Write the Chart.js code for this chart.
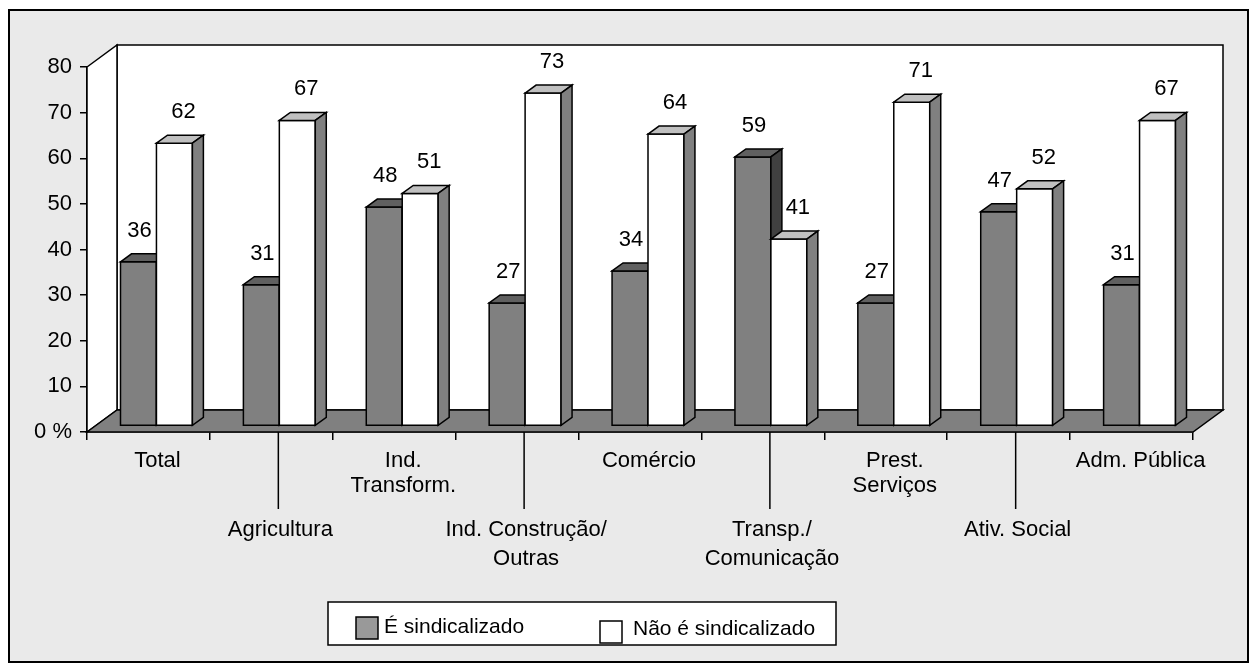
<!DOCTYPE html>
<html>
<head>
<meta charset="utf-8">
<script src="https://cdn.jsdelivr.net/npm/chart.js@4.4.1/dist/chart.umd.min.js"></script>
<style>
  html, body { margin: 0; padding: 0; background: #fff; }
  #wrap { width: 1257px; height: 671px; position: relative; }
</style>
</head>
<body>
<div id="wrap"><canvas id="chart"></canvas></div>
<script>
// Categories (multi-line labels) and values
var categories = [
    ['Total'],
    ['Agricultura'],
    ['Ind.', 'Transform.'],
    ['Ind. Construção/', 'Outras'],
    ['Comércio'],
    ['Transp./', 'Comunicação'],
    ['Prest.', 'Serviços'],
    ['Ativ. Social'],
    ['Adm. Pública']
];
var seriesNames = ['É sindicalizado', 'Não é sindicalizado'];
var sindicalizado = [36, 31, 48, 27, 34, 59, 27, 47, 31];
var naoSindicalizado = [62, 67, 51, 73, 64, 41, 71, 52, 67];
var yMin = 0, yMax = 80, yStep = 10;

var FONT = "'Liberation Sans', Arial, sans-serif";

// colours: front, top, side
var palette = [
    { front: '#808080', top: '#606060', side: '#404040' },
    { front: '#ffffff', top: '#c0c0c0', side: '#808080' }
];
var labelShift = [1, 9];   // value label offset from the bar front centre

// 3D geometry
var WALL_DX = 30, WALL_DY = -22;   // depth of the floor / walls
var BAR_DX = 8, BAR_DY = -5.9;     // bar front face offset into the depth
var SIDE_DX = 11, SIDE_DY = -8;    // bar depth

function poly(ctx, pts, fill) {
    ctx.beginPath();
    ctx.moveTo(pts[0][0], pts[0][1]);
    for (var i = 1; i < pts.length; i++) ctx.lineTo(pts[i][0], pts[i][1]);
    ctx.closePath();
    if (fill) { ctx.fillStyle = fill; ctx.fill(); }
    ctx.stroke();
}

var scene3d = {
    id: 'scene3d',
    beforeDraw: function(chart) {
        var ctx = chart.ctx;
        ctx.save();
        ctx.fillStyle = '#ffffff';
        ctx.fillRect(0, 0, chart.width, chart.height);
        ctx.fillStyle = '#eaeaea';
        ctx.fillRect(9, 10, 1239, 652);
        ctx.strokeStyle = '#000';
        ctx.lineWidth = 2;
        ctx.strokeRect(9, 10, 1239, 652);
        ctx.restore();
    },
    beforeDatasetsDraw: function(chart) {
        var ctx = chart.ctx, a = chart.chartArea, ys = chart.scales.y;
        var L = a.left, R = a.right;
        var top = ys.getPixelForValue(yMax), bot = ys.getPixelForValue(yMin);
        ctx.save();
        ctx.strokeStyle = '#000';
        ctx.lineWidth = 1.5;
        // back wall
        poly(ctx, [[L + WALL_DX, top + WALL_DY], [R + WALL_DX, top + WALL_DY],
                   [R + WALL_DX, bot + WALL_DY], [L + WALL_DX, bot + WALL_DY]], '#ffffff');
        // side wall
        poly(ctx, [[L, top], [L + WALL_DX, top + WALL_DY],
                   [L + WALL_DX, bot + WALL_DY], [L, bot]], '#ffffff');
        // floor
        poly(ctx, [[L, bot], [L + WALL_DX, bot + WALL_DY],
                   [R + WALL_DX, bot + WALL_DY], [R, bot]], '#808080');
        ctx.restore();
    },
    afterDatasetsDraw: function(chart) {
        var ctx = chart.ctx;
        var metas = [chart.getDatasetMeta(0), chart.getDatasetMeta(1)];
        ctx.save();
        ctx.strokeStyle = '#000';
        ctx.lineWidth = 1.5;
        for (var i = 0; i < categories.length; i++) {
            for (var d = 0; d < 2; d++) {
                var p = metas[d].data[i].getProps(['x', 'y', 'base', 'width'], true);
                var l = p.x - p.width / 2 + BAR_DX, r = p.x + p.width / 2 + BAR_DX;
                var t = p.y + BAR_DY, b = p.base + BAR_DY;
                var c = palette[d];
                poly(ctx, [[l, t], [r, t], [r, b], [l, b]], c.front);
                poly(ctx, [[l, t], [l + SIDE_DX, t + SIDE_DY], [r + SIDE_DX, t + SIDE_DY], [r, t]], c.top);
                poly(ctx, [[r, t], [r + SIDE_DX, t + SIDE_DY], [r + SIDE_DX, b + SIDE_DY], [r, b]], c.side);
            }
        }
        // value labels
        ctx.fillStyle = '#000';
        ctx.font = '22px ' + FONT;
        ctx.textAlign = 'center';
        ctx.textBaseline = 'middle';
        for (var k = 0; k < 2; k++) {
            var ds = chart.data.datasets[k];
            metas[k].data.forEach(function(bar, j) {
                ctx.fillText(String(ds.data[j]), bar.x + BAR_DX + labelShift[k], bar.y + BAR_DY - 31);
            });
        }
        ctx.restore();
    },
    afterDraw: function(chart) {
        var ctx = chart.ctx, xs = chart.scales.x, ys = chart.scales.y;
        var bot = ys.getPixelForValue(yMin);
        ctx.save();
        ctx.fillStyle = '#000';
        ctx.strokeStyle = '#000';
        ctx.font = '22px ' + FONT;
        ctx.textAlign = 'center';
        ctx.textBaseline = 'middle';
        categories.forEach(function(lines, i) {
            var cx = xs.getPixelForValue(i);
            var low = i % 2 === 1;
            if (low) {
                ctx.lineWidth = 1.5;
                ctx.beginPath();
                ctx.moveTo(cx + 7, bot);
                ctx.lineTo(cx + 7, 509);
                ctx.stroke();
            }
            var y0 = low ? 530 : 461;
            lines.forEach(function(txt, n) {
                ctx.fillText(txt, cx + 9, y0 + n * (low ? 29 : 25));
            });
        });

        // legend
        ctx.lineWidth = 1.5;
        ctx.fillStyle = '#fff';
        ctx.fillRect(328, 602, 508, 43);
        ctx.strokeRect(328, 602, 508, 43);
        var sw = [[356, 617], [600, 621]];
        var tx = [384, 633];
        ctx.font = '21px ' + FONT;
        ctx.textAlign = 'left';
        for (var s = 0; s < 2; s++) {
            ctx.fillStyle = s === 0 ? '#999999' : '#ffffff';
            ctx.fillRect(sw[s][0], sw[s][1], 22, 22);
            ctx.strokeRect(sw[s][0], sw[s][1], 22, 22);
            ctx.fillStyle = '#000';
            ctx.fillText(seriesNames[s], tx[s], 627 + s * 2);
        }
        ctx.restore();
    }
};

new Chart(document.getElementById('chart'), {
    type: 'bar',
    data: {
        labels: categories.map(function(c) { return c.join(' '); }),
        datasets: [
            { label: seriesNames[0], data: sindicalizado, backgroundColor: 'rgba(0,0,0,0)', borderWidth: 0 },
            { label: seriesNames[1], data: naoSindicalizado, backgroundColor: 'rgba(0,0,0,0)', borderWidth: 0 }
        ]
    },
    options: {
        responsive: true,
        maintainAspectRatio: false,
        animation: false,
        events: [],
        layout: { padding: { top: 67, right: 64, left: 0, bottom: 0 } },
        datasets: {
            bar: { categoryPercentage: 0.585, barPercentage: 1.0 }
        },
        plugins: {
            legend: { display: false },
            tooltip: { enabled: false }
        },
        scales: {
            x: {
                offset: true,
                grid: { offset: true, drawOnChartArea: false, drawTicks: true, tickLength: 8, color: '#000', lineWidth: 1.5 },
                border: { display: true, color: '#000', width: 1.5 },
                ticks: { display: false },
                afterFit: function(scale) { scale.height = 671 - 432; }
            },
            y: {
                min: yMin,
                max: yMax,
                grid: { drawOnChartArea: false, drawTicks: true, tickLength: 7, color: '#000', lineWidth: 1.5 },
                border: { display: true, color: '#000', width: 1.5 },
                ticks: {
                    stepSize: yStep,
                    padding: 8,
                    color: '#000',
                    font: { family: FONT, size: 22 },
                    callback: function(v) { return v === 0 ? '0 %' : v; }
                },
                afterFit: function(scale) { scale.width = 87; }
            }
        }
    },
    plugins: [scene3d]
});
</script>
</body>
</html>
